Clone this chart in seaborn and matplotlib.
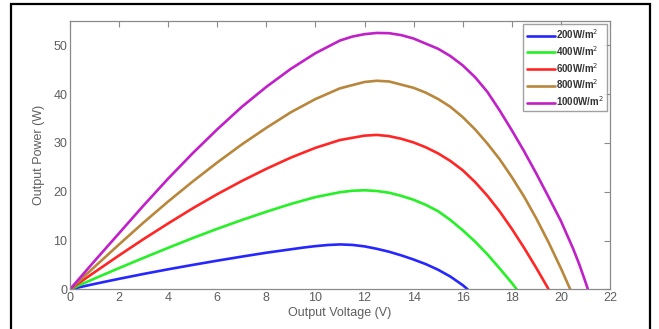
import matplotlib
matplotlib.use('Agg')
import matplotlib.pyplot as plt
import pandas as pd
import seaborn as sns
from matplotlib.patches import Rectangle

# values (voltage in V, power in W)
v200 = [0, 1, 2, 3, 4, 5, 6, 7, 8, 9, 9.5, 10, 10.5, 11, 11.5, 12, 12.5, 13, 13.5, 14, 14.5, 15, 15.5, 16, 16.2]
p200 = [0, 1.1, 2.15, 3.15, 4.1, 5.0, 5.87, 6.7, 7.5, 8.2, 8.55, 8.85, 9.08, 9.2, 9.1, 8.8, 8.3, 7.7, 6.95,
        6.1, 5.15, 4.0, 2.6, 0.85, 0]

v400 = [0, 1, 2, 3, 4, 5, 6, 7, 8, 9, 10, 11, 11.5, 12, 12.5, 13, 13.5, 14, 14.5, 15, 15.5, 16, 16.5, 17,
        17.5, 18, 18.2]
p400 = [0, 2.2, 4.35, 6.45, 8.5, 10.5, 12.4, 14.2, 15.9, 17.5, 18.9, 19.9, 20.2, 20.3, 20.15, 19.8, 19.15,
        18.35, 17.3, 16.0, 14.2, 12.1, 9.8, 7.2, 4.3, 1.3, 0]

v600 = [0, 1, 2, 3, 4, 5, 6, 7, 8, 9, 10, 11, 12, 12.5, 13, 13.5, 14, 14.5, 15, 15.5, 16, 16.5, 17, 17.5,
        18, 18.5, 19, 19.5]
p600 = [0, 3.5, 6.95, 10.3, 13.5, 16.6, 19.5, 22.2, 24.7, 27.0, 29.0, 30.6, 31.5, 31.65, 31.4, 30.85, 30.1,
        29.1, 27.85, 26.3, 24.4, 22.0, 19.2, 16.0, 12.4, 8.5, 4.35, 0]

v800 = [0, 1, 2, 3, 4, 5, 6, 7, 8, 9, 10, 11, 12, 12.5, 13, 14, 14.5, 15, 15.5, 16, 16.5, 17, 17.5, 18,
        18.5, 19, 19.5, 20, 20.38]
p800 = [0, 4.6, 9.2, 13.7, 18.0, 22.1, 26.0, 29.7, 33.1, 36.3, 39.0, 41.2, 42.5, 42.75, 42.6, 41.3, 40.3,
        39.0, 37.4, 35.3, 32.8, 29.9, 26.7, 23.0, 19.0, 14.5, 9.6, 4.3, 0]

v1000 = [0, 1, 2, 3, 4, 5, 6, 7, 8, 9, 10, 11, 11.5, 12, 12.5, 13, 13.5, 14, 15, 15.5, 16, 16.5, 17, 17.5,
         18, 18.5, 19, 19.5, 20, 20.5, 20.75, 21, 21.1]
p1000 = [0, 5.8, 11.5, 17.2, 22.7, 27.9, 32.8, 37.4, 41.5, 45.2, 48.4, 51.0, 51.8, 52.3, 52.55, 52.5, 52.1,
         51.4, 49.3, 47.8, 45.9, 43.5, 40.5, 36.7, 32.6, 28.3, 23.7, 18.9, 14.0, 8.3, 5.1, 1.5, 0]

labels = ['200W/m$^2$', '400W/m$^2$', '600W/m$^2$', '800W/m$^2$', '1000W/m$^2$']
colors = ['#2626ff', '#26f026', '#ff2626', '#b8873c', '#c020c8']
x_ticks = [0, 2, 4, 6, 8, 10, 12, 14, 16, 18, 20, 22]
y_ticks = [0, 10, 20, 30, 40, 50]

frames = []
for lab, v, p in zip(labels, [v200, v400, v600, v800, v1000], [p200, p400, p600, p800, p1000]):
    frames.append(pd.DataFrame({'voltage': v, 'power': p, 'irradiance': lab}))
df = pd.concat(frames, ignore_index=True)

sns.set_style('white')
plt.rcParams['font.family'] = ['Liberation Sans', 'DejaVu Sans']

fig = plt.figure(figsize=(6.59, 3.29), dpi=100)
ax = fig.add_axes([70 / 659, 1 - 289.3 / 329, 540 / 659, 268.3 / 329])

sns.lineplot(data=df, x='voltage', y='power', hue='irradiance', palette=colors,
             linewidth=1.9, sort=False, estimator=None, ax=ax)

ax.set_xlim(0, 22)
ax.set_ylim(0, 55)
ax.set_xticks(x_ticks)
ax.set_yticks(y_ticks)
ax.tick_params(direction='in', top=True, right=True, length=4, width=0.8,
               color='#8a8a8a', labelcolor='#5e5e5e', labelsize=9, pad=2)
for s in ax.spines.values():
    s.set_color('#8a8a8a')
    s.set_linewidth(0.9)

ax.set_xlabel('Output Voltage (V)', fontsize=9, color='#5e5e5e', labelpad=2)
ax.set_ylabel('Output Power (W)', fontsize=9, color='#5e5e5e', labelpad=6)

handles, labs = ax.get_legend_handles_labels()
leg = ax.legend(handles, labs, loc='upper right', frameon=True, fancybox=False,
                edgecolor='#8a8a8a', handlelength=2.9, handletextpad=0.1, borderpad=0.35,
                labelspacing=0.3, borderaxespad=0.3, prop={'weight': 'bold', 'size': 7})
leg.get_frame().set_linewidth(1.0)
for t in leg.get_texts():
    t.set_color('#333333')

# black frame around the whole picture
fig.patches.append(Rectangle((11 / 659, -0.05), (650 - 11) / 659, 1.05 - 4 / 329,
                             transform=fig.transFigure, fill=False, edgecolor='black', linewidth=1.6))

fig.savefig('out.png', dpi=100)
